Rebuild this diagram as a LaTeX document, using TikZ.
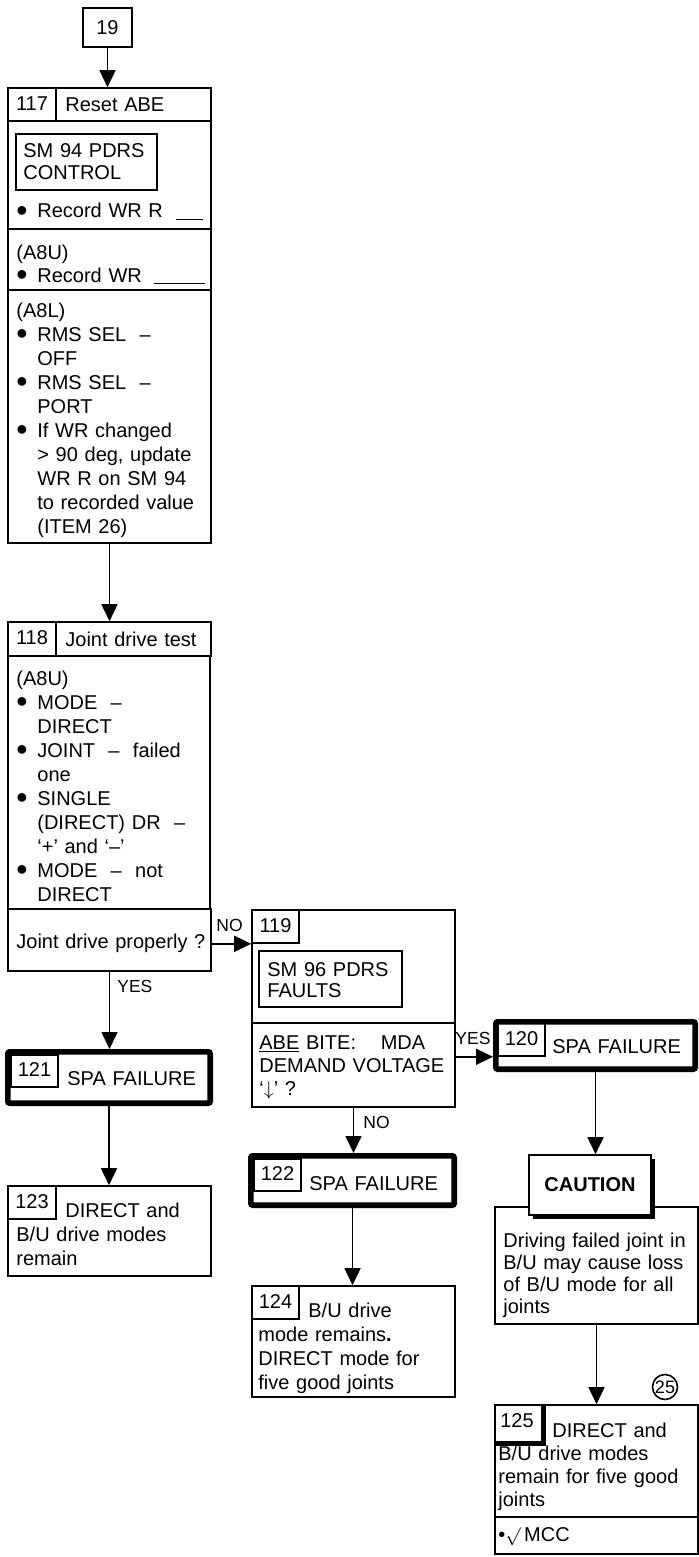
\documentclass[tikz,border=0pt]{standalone}
\usepackage{fontspec}
\setmainfont{Liberation Sans}
\usetikzlibrary{arrows.meta,fit,shadows}

\newcommand{\bul}{\makebox[10.5pt][l]{\raisebox{-1.6pt}[5pt][0pt]{\scalebox{1.6}{\textbullet}}}}
\newcommand{\cont}{\hspace*{10.5pt}}

\begin{document}
\begin{tikzpicture}[x=0.5pt, y=-0.5pt, >={Triangle[length=8.5pt,width=8pt]},
        every node/.style={font=\fontsize{10}{12}\selectfont},
        frame/.style={draw, line width=0.8pt, inner sep=0pt},
        heavy/.style={draw, line width=2.8pt, inner sep=0pt, rounded corners=1pt},
        txt/.style={anchor=base west, inner sep=0pt, align=left, text width=100pt},
        tight/.style={font=\fontsize{10}{11}\selectfont},
        lbl/.style={anchor=base west, inner sep=0pt, font=\fontsize{8.75}{10}\selectfont},
        link/.style={->, line width=0.8pt}]
            \useasboundingbox (0,0) rectangle (699,1557);

            \node[frame, minimum width=24.5pt, minimum height=19.5pt] (n19) at (107.5,27.5) {19};

            \node[frame, fit={(8,88)(211,121)}] (h117) {};
            \node[frame, fit={(8,88)(56,121)}] (k117) {};
            \node[txt] (t117) at (65,112) {Reset ABE};
            \node[frame, fit={(8,121)(211,229)}] (p117a) {};
            \node[frame, fit={(16,134)(157,190)}] (sm94) {};
            \node[txt, tight] (t94) at (23,158) {SM 94 PDRS\\CONTROL};
            \node[txt] (r117a) at (16,218) {\bul Record WR R\hspace{6.5pt}\rule[-1pt]{13.5pt}{0.6pt}};
            \node[frame, fit={(8,229)(211,290)}] (p117b) {};
            \node[txt, font=\fontsize{10}{11.5}\selectfont] (r117b) at (16,259) {(A8U)\\\bul Record WR\hspace{6pt}\rule[-1pt]{25.5pt}{0.6pt}};
            \node[frame, fit={(8,290)(211,543)}] (p117c) {};
            \node[txt] (r117c) at (16,317) {(A8L)\\\bul RMS SEL\ \ –\\\cont OFF\\\bul RMS SEL\ \ –\\\cont PORT\\\bul If WR changed\\\cont > 90 deg, update\\\cont WR R on SM 94\\\cont to recorded value\\\cont (ITEM 26)};

            \node[frame, fit={(8,622)(211,656)}] (h118) {};
            \node[frame, fit={(8,622)(56,656)}] (k118) {};
            \node[txt] (t118) at (65,646) {Joint drive test};
            \node[frame, fit={(8,656)(210,909)}] (p118) {};
            \node[txt] (r118) at (16,685) {(A8U)\\\bul MODE\ \ –\\\cont DIRECT\\\bul JOINT\ \ –\ \ failed\\\cont one\\\bul SINGLE\\\cont (DIRECT) DR\ \ –\\\cont ‘+’ and ‘–’\\\bul MODE\ \ –\ \ not\\\cont DIRECT};
            \node[frame, fit={(8,909)(211,971)}] (q118) {};
            \node[txt] (tq118) at (16,948) {Joint drive properly ?};

            \node[frame, fit={(252,910)(455,1023)}] (u119) {};
            \node[frame, fit={(252,1023)(455,1107)}] (l119) {};
            \node[frame, fit={(252,910)(299,943)}] (k119) {};
            \node[frame, fit={(259,951)(402,1007)}] (sm96) {};
            \node[txt, font=\fontsize{10}{10.5}\selectfont] (t96) at (267,976) {SM 96 PDRS\\FAULTS};
            \node[txt, font=\fontsize{10}{11.5}\selectfont] (r119) at (259,1049) {\underline{ABE} BITE:\hspace{9pt} MDA\\DEMAND VOLTAGE\\‘$\downarrow$’ ?};

            \node[heavy, fit={(495.8,1021.8)(695.2,1069.2)}] (b120) {};
            \node[frame, fit={(498,1023)(545,1056)}] (k120) {};
            \node[txt] (t120) at (552,1053) {SPA FAILURE};

            \node[heavy, fit={(7.8,1051.8)(210.2,1103.2)}] (b121) {};
            \node[frame, fit={(11,1055)(58,1087)}] (k121) {};
            \node[txt] (t121) at (67,1085) {SPA FAILURE};

            \node[heavy, fit={(250.8,1155.8)(454.2,1205.2)}] (b122) {};
            \node[frame, fit={(254,1159)(301,1191)}] (k122) {};
            \node[txt] (t122) at (309,1190) {SPA FAILURE};

            \node[frame, fit={(8,1186)(211,1276)}] (b123) {};
            \node[frame, fit={(8,1186)(56,1219)}] (k123) {};
            \node[txt] (t123) at (16,1217) {\hspace*{24.5pt}DIRECT and\\B/U drive modes\\remain};

            \node[frame, fit={(252,1286)(455,1397)}] (b124) {};
            \node[frame, fit={(252,1286)(299,1319)}] (k124) {};
            \node[txt] (t124) at (258,1317) {\hspace*{25pt}B/U drive\\mode remains\textbf{.}\\DIRECT mode for\\five good joints};

            \foreach \k in {117,118,119,120,121,122,123,124} {
                    \node (n\k) at ([yshift=0.5pt]k\k.center) {\k};
                }

            \node[frame, fit={(495,1207)(698,1324)}] (w125) {};
            \node[frame, fill=white, fit={(529,1155)(651,1215)}, drop shadow={shadow xshift=2pt, shadow yshift=-2pt, opacity=1, fill=black}] (cau) {};
            \node[font=\fontsize{10}{12}\selectfont\bfseries] (tcau) at (cau.center) {CAUTION};
            \node[txt, tight] (tw125) at (503,1247) {Driving failed joint in\\B/U may cause loss\\of B/U mode for all\\joints};

            \node[frame, fit={(495,1405)(698,1517)}] (b125) {};
            \node[frame, fit={(495,1517)(698,1554)}] (m125) {};
            \node[frame, fit={(495,1405)(543,1443)}] (k125) {};
            \draw[line width=2.5pt] (k125.north east) -- (k125.south east) -- (k125.south west);
            \node (n125) at ([xshift=-1pt,yshift=1.5pt]k125.center) {125};
            \node[txt, font=\fontsize{10}{11.6}\selectfont] (t125) at (498,1437) {\hspace*{27pt}DIRECT and\\B/U drive modes\\remain for five good\\joints};
            \node[txt] (mcc) at (498,1541) {\textbullet{\small$\surd$}\,MCC};
            \node[draw, circle, line width=0.8pt, minimum size=12.5pt, inner sep=0pt, font=\fontsize{9}{10}\selectfont] (c25) at (665,1387) {25};

            \foreach \a/\b in {n19/h117, p117c/h118, q118/b121, b121/b123, l119/b122, b122/b124, b120/cau, w125/b125} {
                    \draw[link] (\a.south) -- (\a.south |- \b.north);
                }
            \draw[link] (k119.south west -| q118.east) -- (k119.south west);
            \draw[link] (k120.south -| l119.east) -- (k120.south -| b120.west);

            \node[lbl] (no1) at (216,931) {NO};
            \node[lbl] (yes1) at (117,992) {YES};
            \node[lbl] (no2) at (363,1128) {NO};
            \node[lbl] (yes2) at (455,1044) {YES};
        \end{tikzpicture}
\end{document}
